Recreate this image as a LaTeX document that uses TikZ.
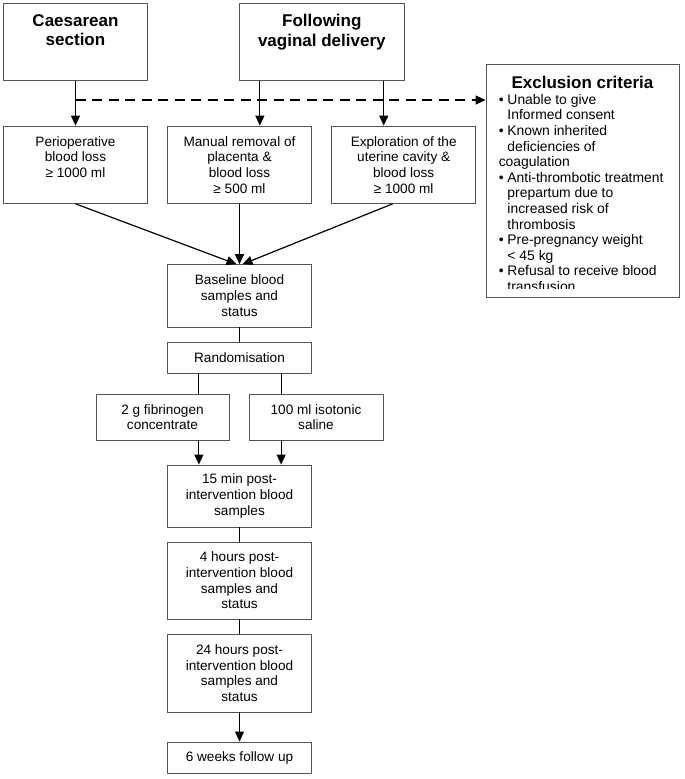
\documentclass[tikz,border=0pt]{standalone}
\usepackage{fontspec}
\setmainfont{Liberation Sans}
\usetikzlibrary{arrows.meta,calc}
\definecolor{box-gray}{RGB}{85,85,85}

\begin{document}
\begin{tikzpicture}[x=1pt, y=-1pt,
	box/.style={draw=box-gray, line width=.9pt, rectangle, align=center, inner sep=0pt,
		font=\fontsize{13.6}{15.7}\selectfont},
	toptext/.style={anchor=north, inner sep=0pt, yshift=-10.5pt, align=center,
		font=\fontsize{13.6}{15.7}\selectfont},
	headtext/.style={anchor=north, inner sep=0pt, yshift=-11.5pt, align=center,
		font=\fontsize{17}{19.4}\selectfont\bfseries},
	listtext/.style={anchor=north west, inner sep=0pt, align=left,
		font=\fontsize{13.9}{15.6}\selectfont},
	arrow/.style={line width=1.2pt, -{Triangle[length=10pt,width=9pt]}},
	link/.style={line width=1.2pt}]
\path [fill=white] (0 ,0) rectangle (685 ,779);
\useasboundingbox (0 ,0) rectangle (685 ,779);

\node [box, minimum width=144.4pt, minimum height=77pt,
	label={[headtext]north:{Caesarean\\section}}] (cs) at (75.5 ,41.8) {};
\node [box, minimum width=165pt, minimum height=77pt,
	label={[headtext]north:{Following\\vaginal delivery}}] (fvd) at (321.8 ,41.8) {};

\node [box, minimum width=144.4pt, minimum height=77.3pt,
	label={[toptext]north:{Perioperative\\blood loss\\≥ 1000 ml}}] (pbl) at (75.5 ,164.7) {};
\node [box, minimum width=144.4pt, minimum height=77.3pt,
	label={[toptext]north:{Manual removal of\\placenta \&\\blood loss\\≥ 500 ml}}] (mrp) at (239.5 ,164.7) {};
\node [box, minimum width=144.4pt, minimum height=77.3pt,
	label={[toptext]north:{Exploration of the\\uterine cavity \&\\blood loss\\≥ 1000 ml}}] (eut) at (403.7 ,164.7) {};

\node [box, minimum width=193pt, minimum height=233.5pt] (excl) at (582.5 ,180.7) {};
\node [headtext, yshift=-.5pt] (exclhead) at (excl.north) {Exclusion criteria};
\begin{scope}
	\clip (excl.north west) rectangle ([yshift=9.5pt]excl.south east);
	\node [listtext] (excllist) at ([xshift=13pt, yshift=-30.5pt]excl.north west) {
		• Unable to give\\\phantom{• }Informed consent\\
		• Known inherited\\\phantom{• }deficiencies of\\coagulation\\
		• Anti-thrombotic treatment\\\phantom{• }prepartum due to\\
		\phantom{• }increased risk of\\\phantom{• }thrombosis\\
		• Pre-pregnancy weight\\\phantom{• }< 45 kg\\
		• Refusal to receive blood\\\phantom{• }transfusion};
\end{scope}

\node [box, minimum width=144.4pt, minimum height=62.3pt] (base) at (239.5 ,295.8) {Baseline blood\\samples and\\status};
\node [box, minimum width=144.4pt, minimum height=31pt] (rand) at (239.5 ,357.5) {Randomisation};
\node [box, minimum width=133pt, minimum height=46pt] (fib) at (162.5 ,417) {2 g fibrinogen\\concentrate};
\node [box, minimum width=134pt, minimum height=46pt] (sal) at (316 ,417) {100 ml isotonic\\saline};
\node [box, minimum width=144.4pt, minimum height=62pt] (p15) at (239.5 ,496) {15 min post-\\intervention blood\\samples};
\node [box, minimum width=144.4pt, minimum height=77pt] (h4) at (239.5 ,580.5) {4 hours post-\\intervention blood\\samples and\\status};
\node [box, minimum width=144.4pt, minimum height=78pt] (h24) at (239.5 ,673) {24 hours post-\\intervention blood\\samples and\\status};
\node [box, minimum width=144.4pt, minimum height=31pt] (w6) at (239.5 ,757.5) {6 weeks follow up};

\coordinate (split) at ($(cs.south)!.43!(pbl.north)$);
\coordinate (fvdl) at ([xshift=21pt]fvd.south west);
\coordinate (fvdr) at ([xshift=-21pt]fvd.south east);
\coordinate (randl) at ([xshift=32pt]rand.south west);
\coordinate (randr) at ([xshift=-31pt]rand.south east);

\draw [arrow] (cs.south) -- (pbl.north);
\draw [arrow, dash pattern=on 10pt off 6.5pt] (split) -- (split -| excl.west);
\draw [arrow] (fvdl) -- (fvdl |- mrp.north);
\draw [arrow] (fvdr) -- (fvdr |- eut.north);

\draw [arrow] (pbl.south) -- ([xshift=-3pt]base.north);
\draw [arrow] (mrp.south) -- (base.north);
\draw [arrow] ([xshift=-11pt]eut.south) -- ([xshift=3pt]base.north);

\draw [link] (base.south) -- (rand.north);
\draw [link] (randl) -- (randl |- fib.north);
\draw [link] (randr) -- (randr |- sal.north);
\draw [arrow] (randl |- fib.south) -- (randl |- p15.north);
\draw [arrow] (randr |- sal.south) -- (randr |- p15.north);
\draw [link] (p15.south) -- (h4.north);
\draw [link] (h4.south) -- (h24.north);
\draw [arrow] (h24.south) -- (w6.north);
\end{tikzpicture}
\end{document}
